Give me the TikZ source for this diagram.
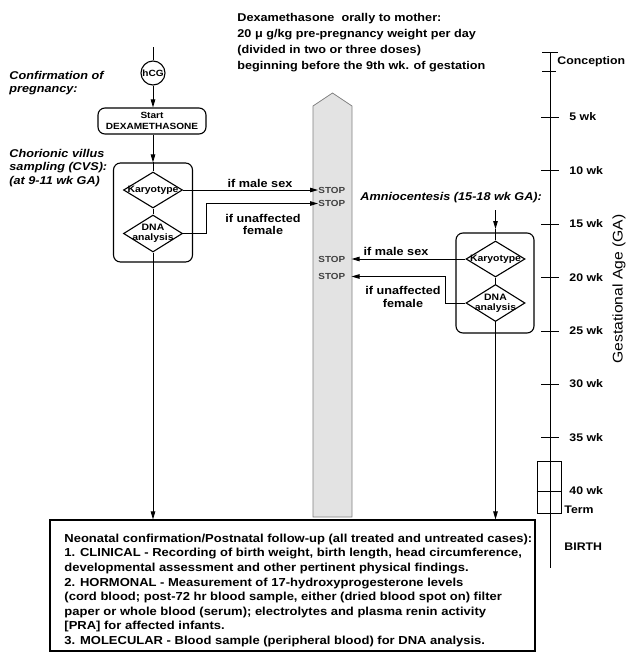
\documentclass[tikz,border=0pt]{standalone}
\usepackage{fontspec}
\setmainfont[FakeStretch=1.12]{Liberation Sans}
\usetikzlibrary{shapes.geometric,arrows.meta}
\newcommand\fsz[2]{\fontsize{#1}{#2}\selectfont}
\definecolor{colfill}{gray}{0.89}
\definecolor{coledge}{gray}{0.5}
\definecolor{stopgray}{gray}{0.25}
\begin{document}
\begin{tikzpicture}[x=1pt,y=-1pt,line width=0.9pt,
  arr/.style={-{Triangle[length=8pt,width=4.5pt]}},
  lbl/.style={inner sep=0pt, font=\bfseries\fsz{11.3}{16}},
  ital/.style={inner sep=0pt, font=\bfseries\itshape\fsz{11.3}{13.5}, align=left},
  dia/.style={draw, diamond, inner sep=0pt, minimum width=59pt, minimum height=36pt, line width=1.1pt},
  diatext/.style={inner sep=0pt, font=\bfseries\fsz{9.3}{10}, align=center},
  stoptxt/.style={inner sep=0pt, font=\bfseries\fsz{8.8}{10}, text=stopgray, anchor=west},
  rbox/.style={draw, rounded corners=7pt, line width=1.1pt, inner sep=0pt},
  wk/.style={inner sep=0pt, font=\bfseries\fsz{11}{13}, anchor=west},
]
\useasboundingbox (0,0) rectangle (627,654);

% top text
\node[lbl, anchor=north west, align=left] (dexa) at (237,12.5) {Dexamethasone\ \ orally to mother:\\20 μ g/kg pre-pregnancy weight per day\\(divided in two or three doses)\\beginning before the 9th wk. of gestation};

% left labels
\node[ital, anchor=north west] (conf) at (9,70.5) {Confirmation of\\pregnancy:};
\node[ital, anchor=north west] (cvsl) at (9,148.5) {Chorionic villus\\sampling (CVS):\\(at 9-11 wk GA)};

% left flow
\coordinate (hcgtop) at (153,47);
\node[draw, circle, minimum size=24pt, inner sep=0pt, line width=1.1pt, font=\bfseries\fsz{9}{10}] (hcg) at (153,73) {hCG};
\node[rbox, minimum width=108pt, minimum height=26pt, font=\bfseries\fsz{9}{10.8}, align=center] (start) at (152,121) {Start\\DEXAMETHASONE};
\node[rbox, minimum width=79pt, minimum height=99pt] (cvs) at (153,212.5) {};
\node[dia] (k1) at (153,190) {};
\node[diatext] (k1t) at (k1) {Karyotype};
\node[dia, minimum height=37pt] (d1) at (153,233.5) {};
\node[diatext] (d1t) at (d1) {DNA\\analysis};

\draw (hcgtop) -- (hcg.north);
\draw[arr] (hcg.south) -- (hcg.south |- start.north);
\draw[arr] (cvs.north |- start.south) -- (cvs.north);
\draw (cvs.north) -- (k1.north);
\draw (k1.south) -- (d1.north);

% central column
\coordinate (colBL) at (313,517);
\coordinate (colTL) at (313,106);
\coordinate (colTip) at (332.5,93);
\coordinate (colTR) at (352,106);
\coordinate (colBR) at (352,517);
\draw[fill=colfill, draw=coledge, line width=0.8pt] (colBL) -- (colTL) -- (colTip) -- (colTR) -- (colBR) -- cycle;

\node[stoptxt] (s1) at (318,190) {STOP};
\node[stoptxt] (s2) at (318,203.5) {STOP};
\node[stoptxt] (s3) at (318,259) {STOP};
\node[stoptxt] (s4) at (318,276.5) {STOP};

% left connectors to STOP
\coordinate (c2) at (206,203.5);
\draw[arr] (k1.east) -- (s1.west);
\draw[arr] (d1.east) -| (c2) -- (s2.west);
\node[lbl, anchor=base] (m1) at (260,187) {if male sex};
\node[lbl, anchor=north, align=center, font=\bfseries\fsz{11.3}{12.5}] (u1) at (263,213.8) {if unaffected\\female};

% right flow
\node[ital, anchor=west] (amn) at (360,198) {Amniocentesis (15-18 wk GA):};
\node[rbox, minimum width=78pt, minimum height=100pt] (amb) at (495,283) {};
\node[dia] (k2) at (495.5,259) {};
\node[diatext] (k2t) at (k2) {Karyotype};
\node[dia, minimum height=37pt] (d2) at (495.5,303) {};
\node[diatext] (d2t) at (d2) {DNA\\analysis};
\coordinate (atop) at (495.5,210);
\coordinate (amid) at (495.5,229);
\draw[arr] (atop) -- (amid);
\draw (amid) -- (k2.north);
\draw (k2.south) -- (d2.north);

\coordinate (c3) at (445,276.5);
\draw[arr] (k2.west) -- ([xshift=6pt]s3.east);
\draw[arr] (d2.west) -| (c3) -- ([xshift=6pt]s4.east);
\node[lbl, anchor=base] (m2) at (396,255) {if male sex};
\node[lbl, anchor=north, align=center, font=\bfseries\fsz{11.3}{13}] (u2) at (403,286) {if unaffected\\female};

% bottom box
\node[draw, line width=1.1pt, minimum width=485pt, minimum height=131pt, inner sep=0pt] (nb) at (292.5,585.5) {};
\node[inner sep=0pt, anchor=north west, align=left, font=\bfseries\fsz{11.6}{14.6}] (nbt) at (64,533.5) {Neonatal confirmation/Postnatal follow-up (all treated and untreated cases):\\
1. CLINICAL - Recording of birth weight, birth length, head circumference,\\
developmental assessment and other pertinent physical findings.\\
2. HORMONAL - Measurement of 17-hydroxyprogesterone levels\\
(cord blood; post-72 hr blood sample, either (dried blood spot on) filter\\
paper or whole blood (serum); electrolytes and plasma renin activity\\
{[PRA]} for affected infants.\\
3. MOLECULAR - Blood sample (peripheral blood) for DNA analysis.};

\draw[arr] (d1.south) -- (d1.south |- nb.north);
\draw[arr] (d2.south) -- (d2.south |- nb.north);

% timeline
\coordinate (axTop) at (550,52);
\coordinate (axBot) at (550,568);
\draw (axTop) -- (axBot);
\draw (542,52) -- (558,52);
\draw (542,71) -- (556,71);
\node[wk, anchor=west] (concep) at (557,62) {Conception};
\foreach \n/\yy in {5/117,10/170.5,15/224,20/277.5,25/331,30/384,35/437.5}{
  \draw (541,\yy) -- (559,\yy);
  \node[wk] (w\n) at (569,\yy) {\n\ wk};
}
\node[draw, line width=0.8pt, minimum width=24pt, minimum height=52pt, inner sep=0pt] (term) at (549,487) {};
\draw (term.west |- 0,491) -- (term.east |- 0,491);
\node[wk] (w40) at (569,491) {40 wk};
\node[wk] (termt) at (564,510) {Term};
\node[wk] (birth) at (564,547) {BIRTH};
\node[rotate=90, inner sep=0pt, font=\fsz{14}{16}] (ga) at (619,289) {Gestational Age (GA)};
\end{tikzpicture}
\end{document}
